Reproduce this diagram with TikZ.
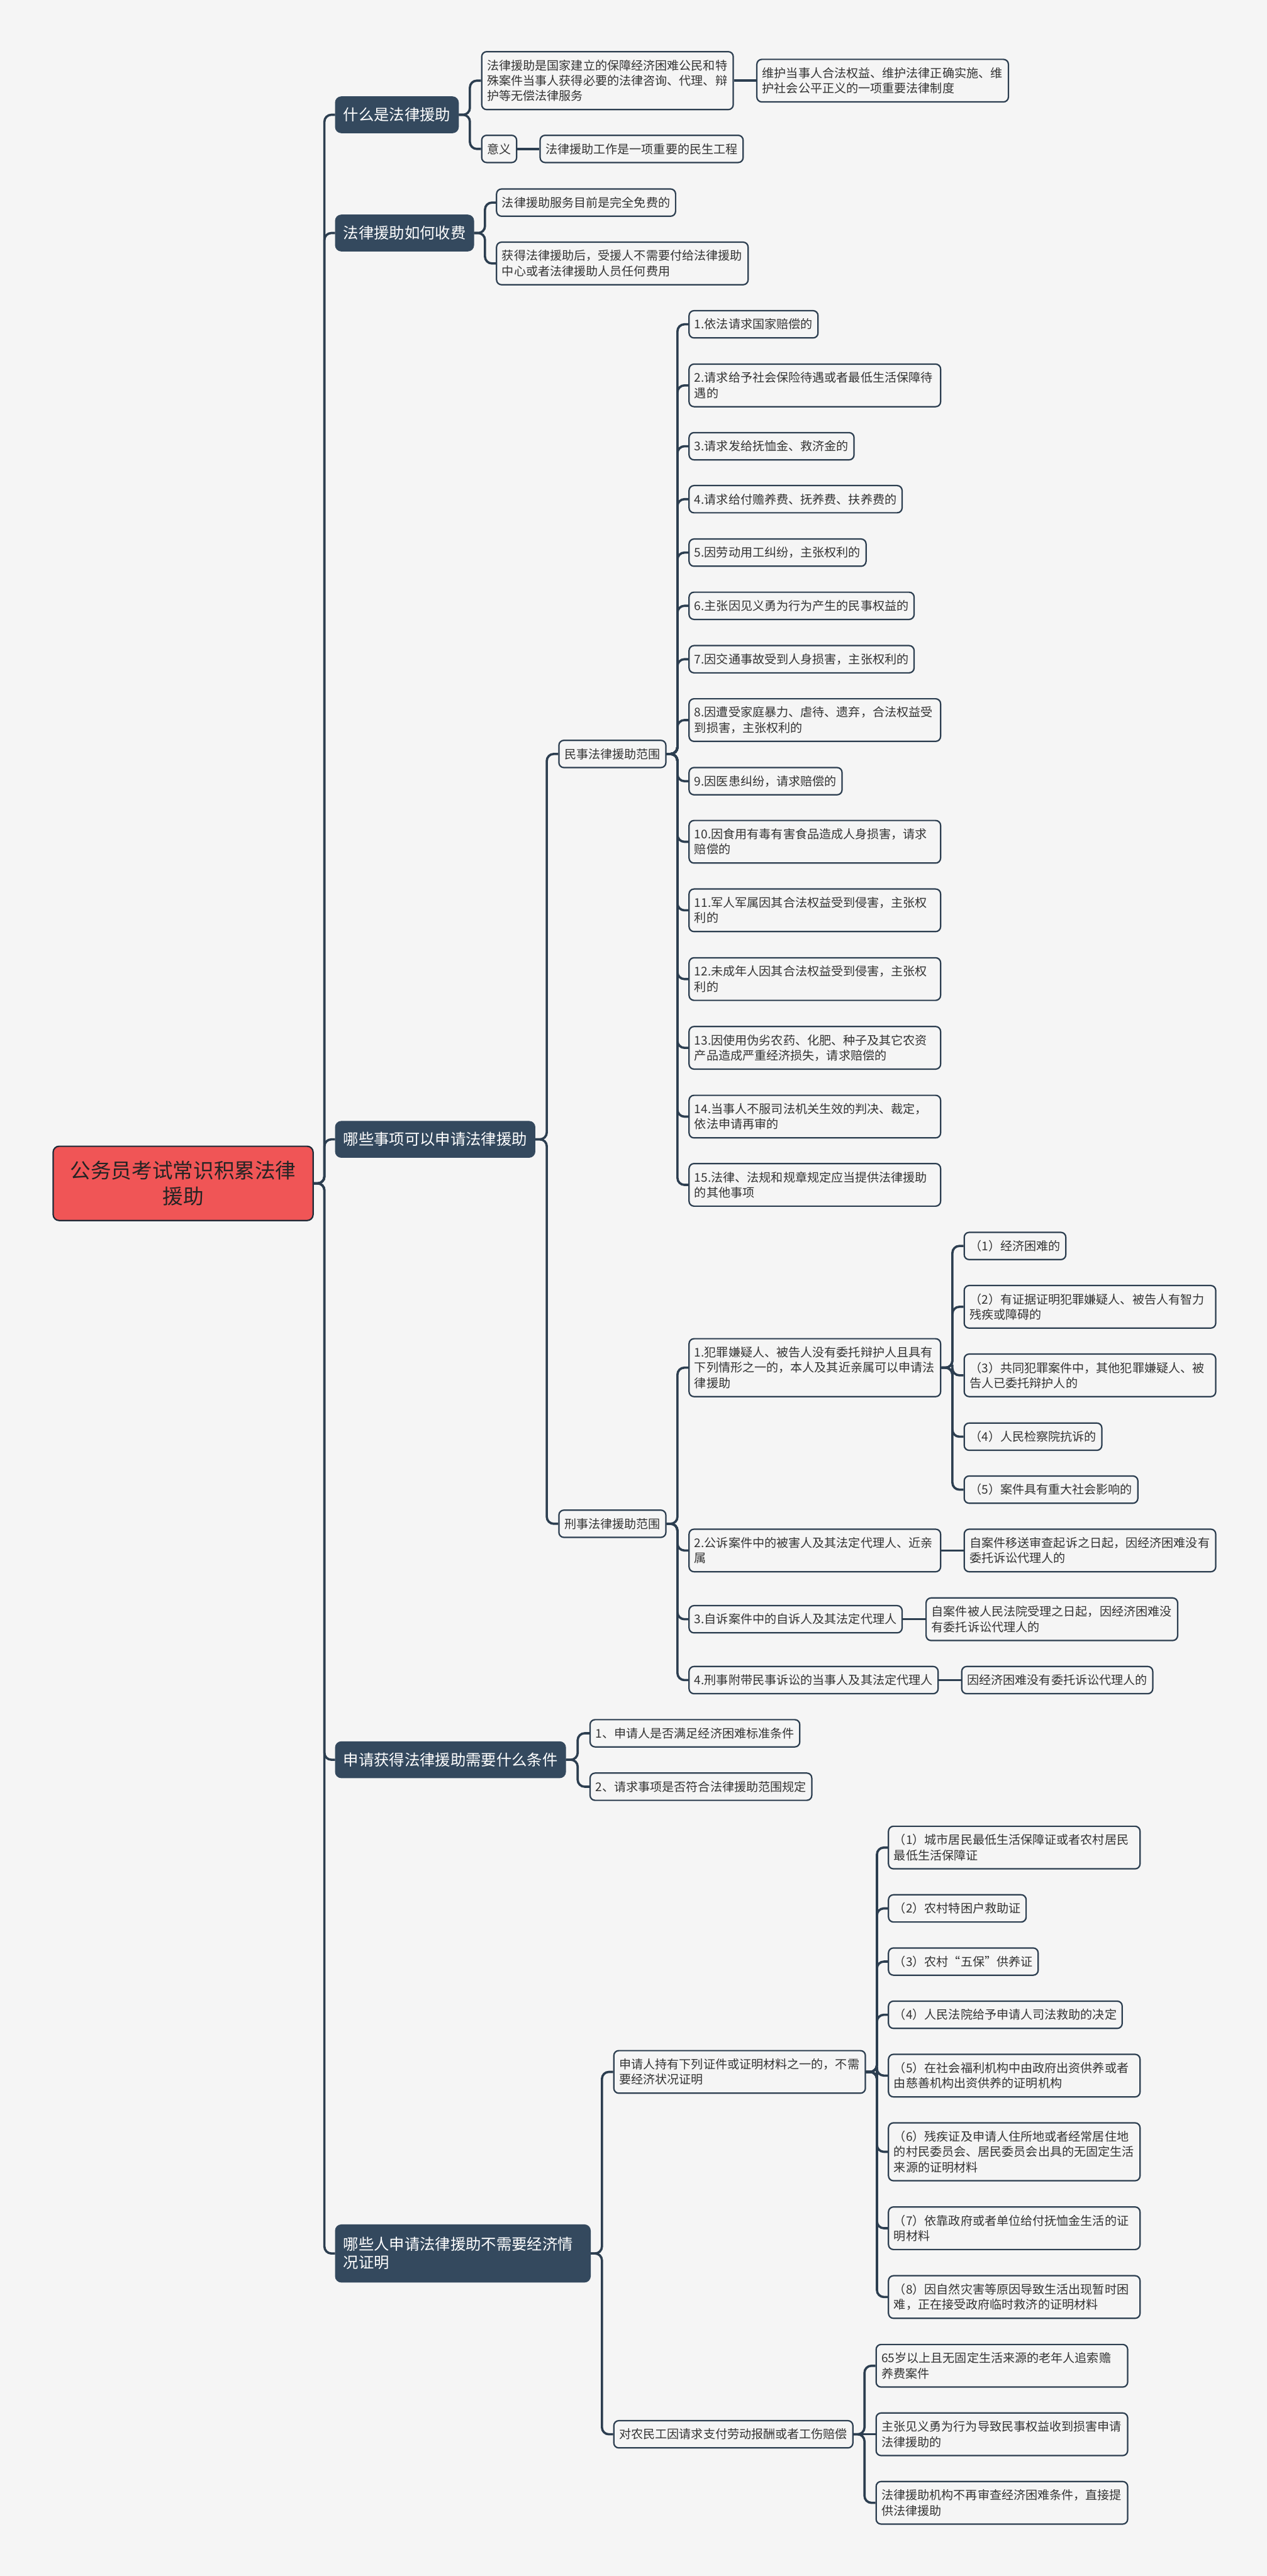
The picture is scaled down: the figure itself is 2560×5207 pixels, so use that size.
\documentclass[tikz,border=0pt]{standalone}
\usepackage{fontspec}
\setmainfont{Noto Sans CJK SC}
\usetikzlibrary{calc}
\definecolor{paper}{HTML}{F5F5F5}
\definecolor{slate}{HTML}{34495E}
\definecolor{wire}{HTML}{2C3E50}
\definecolor{ink}{HTML}{333333}
\definecolor{coral}{HTML}{F05556}
\newcommand{\leafsize}{\fontsize{6.9pt}{8.8pt}\selectfont}
\newcommand{\topicsize}{\fontsize{8.8pt}{10.5pt}\selectfont}
\newcommand{\hubsize}{\fontsize{11.8pt}{15pt}\selectfont}

\begin{document}
\begin{tikzpicture}[x=0.01cm, y=-0.01cm,
	leaf/.style={draw=wire, line width=0.8pt, rounded corners=0.1cm, fill=paper, text=ink, font=\leafsize, align=left, anchor=west, inner xsep=0.11cm, inner ysep=0.04cm, minimum height=0.55cm},
	wide/.style={leaf, text width=4.86cm},
	two/.style={minimum height=0.86cm},
	three/.style={minimum height=1.17cm},
	topic/.style={draw=slate, fill=slate, text=white, rounded corners=0.12cm, font=\topicsize, align=left, anchor=west, inner xsep=0.16cm, minimum height=0.73cm},
	hub/.style={draw=wire!70!black, line width=0.8pt, fill=coral, text=ink!70!black, rounded corners=0.12cm, font=\hubsize, align=center, anchor=west, minimum width=5.25cm, minimum height=1.5cm},
	link/.style={draw=wire, line width=1.3pt, rounded corners=0.14cm, to path={-| ($(\tikztostart)!0.5!(\tikztotarget)$) |- (\tikztotarget)}},
	flat/.style={draw=wire, line width=1.3pt}]
		\fill[paper] (0,0) rectangle (2560,5207);
		\useasboundingbox (0,0) rectangle (2560,5207);
		
		\node[hub] (root) at (106,2392) {公务员考试常识积累法律\\援助};
		
		% 什么是法律援助
		\node[topic] (what) at (677,232) {什么是法律援助};
		\node[wide, three] (whatdef) at (972,163) {法律援助是国家建立的保障经济困难公民和特\\殊案件当事人获得必要的法律咨询、代理、辩\\护等无偿法律服务};
		\node[wide, two] (whatkey) at (1528,163) {维护当事人合法权益、维护法律正确实施、维\\护社会公平正义的一项重要法律制度};
		\node[leaf] (meaning) at (972,301) {意义};
		\node[leaf] (meaningtxt) at (1090,301) {法律援助工作是一项重要的民生工程};
		
		% 法律援助如何收费
		\node[topic] (fee) at (677,471) {法律援助如何收费};
		\node[leaf] (feefree) at (1002,409.5) {法律援助服务目前是完全免费的};
		\node[wide, two] (feenone) at (1002,532.5) {获得法律援助后，受援人不需要付给法律援助\\中心或者法律援助人员任何费用};
		
		% 哪些事项可以申请法律援助
		\node[topic] (scope) at (677,2303) {哪些事项可以申请法律援助};
		\node[leaf] (civil) at (1128,1524) {民事法律援助范围};
		\node[leaf] (crim) at (1128,3080) {刑事法律援助范围};
		
		\node[leaf] (c1) at (1391,655.5) {1.依法请求国家赔偿的};
		\node[wide, two] (c2) at (1391,779) {2.请求给予社会保险待遇或者最低生活保障待\\遇的};
		\node[leaf] (c3) at (1391,902) {3.请求发给抚恤金、救济金的};
		\node[leaf] (c4) at (1391,1009) {4.请求给付赡养费、抚养费、扶养费的};
		\node[leaf] (c5) at (1391,1117) {5.因劳动用工纠纷，主张权利的};
		\node[leaf] (c6) at (1391,1224.5) {6.主张因见义勇为行为产生的民事权益的};
		\node[leaf] (c7) at (1391,1332.5) {7.因交通事故受到人身损害，主张权利的};
		\node[wide, two] (c8) at (1391,1455.5) {8.因遭受家庭暴力、虐待、遗弃，合法权益受\\到损害，主张权利的};
		\node[leaf] (c9) at (1391,1579) {9.因医患纠纷，请求赔偿的};
		\node[wide, two] (c10) at (1391,1701.5) {10.因食用有毒有害食品造成人身损害，请求\\赔偿的};
		\node[wide, two] (c11) at (1391,1840) {11.军人军属因其合法权益受到侵害，主张权\\利的};
		\node[wide, two] (c12) at (1391,1979) {12.未成年人因其合法权益受到侵害，主张权\\利的};
		\node[wide, two] (c13) at (1391,2118) {13.因使用伪劣农药、化肥、种子及其它农资\\产品造成严重经济损失，请求赔偿的};
		\node[wide, two] (c14) at (1391,2257) {14.当事人不服司法机关生效的判决、裁定，\\依法申请再审的};
		\node[wide, two] (c15) at (1391,2395) {15.法律、法规和规章规定应当提供法律援助\\的其他事项};
		
		\node[wide, three] (k1) at (1391,2764.5) {1.犯罪嫌疑人、被告人没有委托辩护人且具有\\下列情形之一的，本人及其近亲属可以申请法\\律援助};
		\node[leaf] (k1a) at (1947,2518.5) {（1）经济困难的};
		\node[wide, two] (k1b) at (1947,2641.5) {（2）有证据证明犯罪嫌疑人、被告人有智力\\残疾或障碍的};
		\node[wide, two] (k1c) at (1947,2780) {（3）共同犯罪案件中，其他犯罪嫌疑人、被\\告人已委托辩护人的};
		\node[leaf] (k1d) at (1947,2904) {（4）人民检察院抗诉的};
		\node[leaf] (k1e) at (1947,3011) {（5）案件具有重大社会影响的};
		\node[wide, two] (k2) at (1391,3134) {2.公诉案件中的被害人及其法定代理人、近亲\\属};
		\node[wide, two] (k2a) at (1947,3134) {自案件移送审查起诉之日起，因经济困难没有\\委托诉讼代理人的};
		\node[leaf] (k3) at (1391,3273) {3.自诉案件中的自诉人及其法定代理人};
		\node[wide, two] (k3a) at (1870,3273) {自案件被人民法院受理之日起，因经济困难没\\有委托诉讼代理人的};
		\node[leaf] (k4) at (1391,3396) {4.刑事附带民事诉讼的当事人及其法定代理人};
		\node[leaf] (k4a) at (1942,3396) {因经济困难没有委托诉讼代理人的};
		
		% 申请获得法律援助需要什么条件
		\node[topic] (cond) at (677,3557) {申请获得法律援助需要什么条件};
		\node[leaf] (cond1) at (1191,3503.5) {1、申请人是否满足经济困难标准条件};
		\node[leaf] (cond2) at (1191,3611.5) {2、请求事项是否符合法律援助范围规定};
		
		% 哪些人申请法律援助不需要经济情况证明
		\node[topic, text width=4.83cm, minimum height=1.16cm] (noproof) at (677,4555) {哪些人申请法律援助不需要经济情\\况证明};
		\node[wide, two] (hold) at (1239,4188) {申请人持有下列证件或证明材料之一的，不需\\要经济状况证明};
		\node[wide, two] (h1) at (1794,3734.5) {（1）城市居民最低生活保障证或者农村居民\\最低生活保障证};
		\node[leaf] (h2) at (1794,3857.5) {（2）农村特困户救助证};
		\node[leaf] (h3) at (1794,3965) {（3）农村“五保”供养证};
		\node[leaf] (h4) at (1794,4072.5) {（4）人民法院给予申请人司法救助的决定};
		\node[wide, two] (h5) at (1794,4195.5) {（5）在社会福利机构中由政府出资供养或者\\由慈善机构出资供养的证明机构};
		\node[wide, three] (h6) at (1794,4349.5) {（6）残疾证及申请人住所地或者经常居住地\\的村民委员会、居民委员会出具的无固定生活\\来源的证明材料};
		\node[wide, two] (h7) at (1794,4504) {（7）依靠政府或者单位给付抚恤金生活的证\\明材料};
		\node[wide, two] (h8) at (1794,4643) {（8）因自然灾害等原因导致生活出现暂时困\\难，正在接受政府临时救济的证明材料};
		\node[leaf] (worker) at (1239,4920.5) {对农民工因请求支付劳动报酬或者工伤赔偿};
		\node[wide, two] (w1) at (1769,4782) {65岁以上且无固定生活来源的老年人追索赡\\养费案件};
		\node[wide, two] (w2) at (1769,4920.5) {主张见义勇为行为导致民事权益收到损害申请\\法律援助的};
		\node[wide, two] (w3) at (1769,5059) {法律援助机构不再审查经济困难条件，直接提\\供法律援助};
		
		% connectors
		\foreach \t in {what, fee, scope, cond, noproof}
			\path (root.east) edge[link] (\t.west);
		\path (what.east) edge[link] (whatdef.west);
		\path (what.east) edge[link] (meaning.west);
		\path (whatdef.east) edge[flat] (whatkey.west);
		\path (meaning.east) edge[flat] (meaningtxt.west);
		\path (fee.east) edge[link] (feefree.west);
		\path (fee.east) edge[link] (feenone.west);
		\path (scope.east) edge[link] (civil.west);
		\path (scope.east) edge[link] (crim.west);
		\foreach \i in {1,...,15}
			\path (civil.east) edge[link] (c\i.west);
		\foreach \i in {1,...,4}
			\path (crim.east) edge[link] (k\i.west);
		\foreach \s in {a,b,c,d,e}
			\path (k1.east) edge[link] (k1\s.west);
		\path (k2.east) edge[flat] (k2a.west);
		\path (k3.east) edge[flat] (k3a.west);
		\path (k4.east) edge[flat] (k4a.west);
		\path (cond.east) edge[link] (cond1.west);
		\path (cond.east) edge[link] (cond2.west);
		\path (noproof.east) edge[link] (hold.west);
		\path (noproof.east) edge[link] (worker.west);
		\foreach \i in {1,...,8}
			\path (hold.east) edge[link] (h\i.west);
		\path (worker.east) edge[link] (w1.west);
		\path (worker.east) edge[flat] (w2.west);
		\path (worker.east) edge[link] (w3.west);
	\end{tikzpicture}
\end{document}
